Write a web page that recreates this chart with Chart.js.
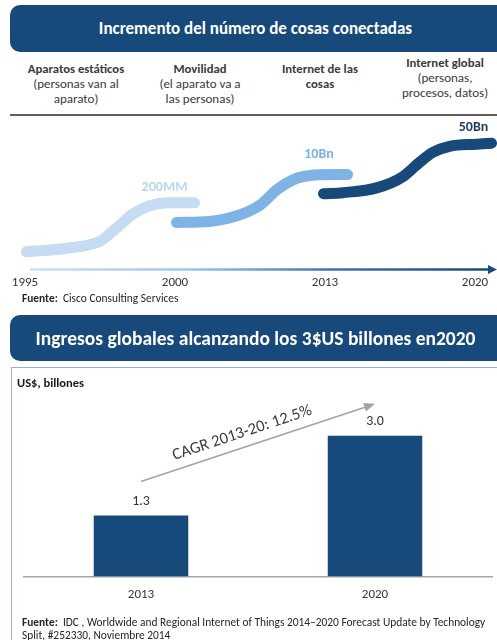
<!DOCTYPE html>
<html lang="es">
<head>
<meta charset="utf-8">
<title>Internet de las cosas</title>
<script src="https://cdn.jsdelivr.net/npm/chart.js@4.4.1/dist/chart.umd.min.js"></script>
<style>
  html, body { margin: 0; padding: 0; }
  body { width: 497px; height: 640px; overflow: hidden; position: relative; background: #fff;
         font-family: Carlito, Lato, 'Open Sans', sans-serif; color: #404040; }
  .banner { position: absolute; left: 10px; width: 520px; background: #17497a; border-radius: 10px;
            color: #fff; font-weight: bold; }
  .banner span { position: absolute; left: 0; top: 0; width: 491px; text-align: center; white-space: nowrap; }
  .col { position: absolute; width: 140px; text-align: center; font-size: 13px; line-height: 15px; color: #3a3a3a; white-space: nowrap; }
  .col b { font-size: 12.7px; }
  .rule { position: absolute; left: 10px; width: 490px; top: 114px; height: 2px; background: #5f5f5f; }
  .note { position: absolute; left: 22px; font-size: 11.4px; line-height: 12.5px; color: #262626; white-space: nowrap; }
  .panel { position: absolute; left: 11px; top: 367px; width: 520px; height: 300px; border: 1.5px solid #98b1cf; }
  .unit { position: absolute; left: 17px; top: 375px; font-size: 12.5px; line-height: 15px; font-weight: bold; color: #1a1a1a; }
  canvas { position: absolute; left: 0; }
</style>
</head>
<body>
<div class="banner" style="top:5px;height:47px;font-size:17px;line-height:47px;"><span>Incremento del número de cosas conectadas</span></div>

<div class="col" style="left:6px;top:61px;"><b>Aparatos estáticos</b><br>(personas van al<br>aparato)</div>
<div class="col" style="left:130px;top:61px;"><b>Movilidad</b><br>(el aparato va a<br>las personas)</div>
<div class="col" style="left:250px;top:61px;"><b>Internet de las<br>cosas</b></div>
<div class="col" style="left:375px;top:55px;"><b>Internet global</b><br>(personas,<br>procesos, datos)</div>
<div class="rule"></div>

<canvas id="things" width="497" height="179" style="top:118px;"></canvas>
<div class="note" style="top:292px;"><b>Fuente:</b>&nbsp; Cisco Consulting Services</div>

<div class="banner" style="top:315px;height:46px;font-size:19.5px;line-height:46px;"><span>Ingresos globales alcanzando los 3$US billones en2020</span></div>
<div class="panel"></div>
<div class="unit">US$, billones</div>
<canvas id="revenue" width="497" height="225" style="top:389px;"></canvas>
<div class="note" style="top:616px;"><b>Fuente:</b>&nbsp; IDC , Worldwide and Regional Internet of Things 2014–2020 Forecast Update by Technology<br>Split, #252330, Noviembre 2014</div>

<script>
var FONT = 'Carlito, Lato, "Open Sans", sans-serif';

// línea de tiempo: 0 = 1995, 1 = 2000, 2 = 2013, 3 = 2020
var stageYears = ['1995', '2000', '2013', '2020'];

// curvas en S (posición en la línea de tiempo, nivel sobre el eje)
var staticStage = [0.01, 0.28, 0.50, 0.61, 0.72, 0.83, 0.95, 1.13];
var staticLevel = [17.5, 21, 28, 41, 55, 63, 66, 66];
var mobileStage = [1.01, 1.23, 1.45, 1.57, 1.68, 1.79, 1.90, 2.05, 2.15];
var mobileLevel = [46.5, 47.5, 55, 64, 79, 89, 93, 94, 94];
var iotStage = [1.99, 2.12, 2.35, 2.52, 2.63, 2.72, 2.83, 3.01, 3.11];
var iotLevel = [75, 76, 81, 92, 106, 116, 122, 124, 125];

var deviceCounts = ['200MM', '10Bn', '50Bn'];
var deviceCountStage = [0.93, 1.96, 2.99];
var deviceCountLevel = [81, 114, 141];

// ingresos
var revenueYears = ['2013', '2020'];
var revenueValues = [1.3, 3.0];
var cagrLabel = 'CAGR 2013-20: 12.5%';

var curveColors = ['#c5dcf2', '#7fb3e6', '#17497a'];
var countColors = ['#b9d6f0', '#78b2e8', '#1f3b5e'];

function toPoints(xs, ys) {
    return xs.map(function (x, i) { return { x: x, y: ys[i] }; });
}

function curve(xs, ys, color) {
    return {
        data: toPoints(xs, ys),
        borderColor: color,
        borderWidth: 11,
        borderCapStyle: 'round',
        borderJoinStyle: 'round',
        cubicInterpolationMode: 'monotone',
        pointRadius: 0,
        fill: false,
        clip: false
    };
}

var timelineDecor = {
    id: 'timelineDecor',
    beforeDatasetsDraw: function (chart) {
        var ctx = chart.ctx, xs = chart.scales.x;
        var y = chart.chartArea.bottom;
        var x0 = xs.getPixelForValue(0) + 5, x1 = chart.width;
        var g = ctx.createLinearGradient(x0, 0, x1, 0);
        g.addColorStop(0, '#cde1f5');
        g.addColorStop(0.35, '#9cc3ea');
        g.addColorStop(0.65, '#3d72a8');
        g.addColorStop(1, '#17497a');
        ctx.save();
        ctx.strokeStyle = g;
        ctx.fillStyle = g;
        ctx.lineWidth = 2.5;
        ctx.beginPath();
        ctx.moveTo(x0, y);
        ctx.lineTo(x1 - 8, y);
        ctx.stroke();
        ctx.beginPath();
        ctx.moveTo(x1, y);
        ctx.lineTo(x1 - 9, y - 4.5);
        ctx.lineTo(x1 - 9, y + 4.5);
        ctx.closePath();
        ctx.fill();
        ctx.restore();
    },
    afterDatasetsDraw: function (chart) {
        var ctx = chart.ctx, xs = chart.scales.x, ys = chart.scales.y;
        ctx.save();
        ctx.font = 'bold 14px ' + FONT;
        ctx.textAlign = 'center';
        ctx.textBaseline = 'middle';
        deviceCounts.forEach(function (txt, i) {
            ctx.fillStyle = countColors[i];
            ctx.fillText(txt, xs.getPixelForValue(deviceCountStage[i]), ys.getPixelForValue(deviceCountLevel[i]));
        });
        ctx.restore();
    }
};

new Chart(document.getElementById('things'), {
    type: 'line',
    data: {
        datasets: [
            curve(staticStage, staticLevel, curveColors[0]),
            curve(mobileStage, mobileLevel, curveColors[1]),
            curve(iotStage, iotLevel, curveColors[2])
        ]
    },
    options: {
        responsive: false,
        animation: false,
        layout: { padding: 0 },
        plugins: { legend: { display: false }, tooltip: { enabled: false } },
        scales: {
            x: {
                type: 'linear',
                min: -25 / 150,
                max: 472 / 150,
                grid: { display: false, drawTicks: false },
                border: { display: false },
                afterBuildTicks: function (axis) {
                    axis.ticks = stageYears.map(function (y, i) { return { value: i }; });
                },
                ticks: {
                    color: '#333',
                    font: { family: FONT, size: 13 },
                    padding: 6,
                    maxRotation: 0,
                    callback: function (v) { return stageYears[v]; }
                }
            },
            y: { display: false, min: 0, max: 150 }
        }
    },
    plugins: [timelineDecor]
});

var cagrArrow = {
    id: 'cagrArrow',
    afterDatasetsDraw: function (chart) {
        var ctx = chart.ctx;
        var bars = chart.getDatasetMeta(0).data;
        ctx.save();
        ctx.fillStyle = '#333';
        ctx.font = '14px ' + FONT;
        ctx.textAlign = 'center';
        ctx.textBaseline = 'middle';
        bars.forEach(function (bar, i) {
            ctx.fillText(revenueValues[i].toFixed(1), bar.x, bar.y - 14);
        });

        var sx = bars[0].x, sy = bars[0].y - 34;
        var ex = bars[1].x, ey = bars[1].y - 32;
        var ang = Math.atan2(ey - sy, ex - sx);
        ctx.strokeStyle = '#a3a3a3';
        ctx.fillStyle = '#a3a3a3';
        ctx.lineWidth = 1.5;
        ctx.beginPath();
        ctx.moveTo(sx, sy);
        ctx.lineTo(ex - 9 * Math.cos(ang), ey - 9 * Math.sin(ang));
        ctx.stroke();
        ctx.translate(ex, ey);
        ctx.rotate(ang);
        ctx.beginPath();
        ctx.moveTo(0, 0);
        ctx.lineTo(-11, -4.5);
        ctx.lineTo(-11, 4.5);
        ctx.closePath();
        ctx.fill();
        ctx.restore();

        ctx.save();
        ctx.translate((sx + ex) / 2, (sy + ey) / 2);
        ctx.rotate(ang);
        ctx.fillStyle = '#3a3a3a';
        ctx.font = '16.5px ' + FONT;
        ctx.textAlign = 'center';
        ctx.textBaseline = 'middle';
        ctx.fillText(cagrLabel, -12, -14);
        ctx.restore();
    }
};

new Chart(document.getElementById('revenue'), {
    type: 'bar',
    data: {
        labels: revenueYears,
        datasets: [{
            data: revenueValues,
            backgroundColor: '#17497a',
            barPercentage: 0.404,
            categoryPercentage: 1
        }]
    },
    options: {
        responsive: false,
        animation: false,
        layout: { padding: { left: 24, right: 5, top: 0, bottom: 0 } },
        plugins: { legend: { display: false }, tooltip: { enabled: false } },
        scales: {
            x: {
                grid: { display: false, drawTicks: false },
                border: { color: '#a6a6a6', width: 1.5 },
                ticks: { color: '#333', font: { family: FONT, size: 13 }, padding: 11 }
            },
            y: { display: false, min: 0, max: 4 }
        }
    },
    plugins: [cagrArrow]
});
</script>
</body>
</html>
